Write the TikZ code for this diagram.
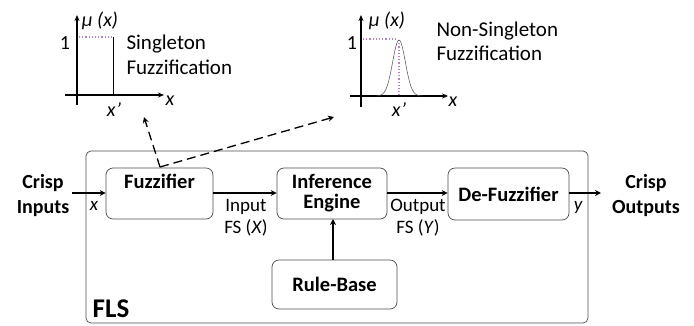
\documentclass[tikz,border=0pt]{standalone}
\usepackage{fontspec}
\setmainfont{Carlito}
\usetikzlibrary{arrows.meta}
\begin{document}
\begin{tikzpicture}[x=1pt,y=-1pt,
  blk/.style={draw=black!70,line width=0.7pt,rounded corners=7pt,font=\fontsize{20.5}{20}\selectfont\bfseries,align=center},
  conn/.style={line width=1.3pt,-{Stealth[length=6pt,width=6pt]}},
  axis/.style={line width=1.3pt,-{Stealth[length=6pt,width=5pt]}},
  lbl/.style={font=\fontsize{19}{22}\selectfont,align=center},
  plt/.style={font=\fontsize{20}{22}\selectfont},
  pit/.style={font=\fontsize{20}{22}\selectfont\itshape},
  big/.style={font=\fontsize{20}{25}\selectfont\bfseries,align=center},
  dotl/.style={dotted,line width=1.2pt,violet!50},
  dsh/.style={dashed,dash pattern=on 9pt off 5pt,line width=1.3pt,-{Stealth[length=6pt,width=6pt]}}]
\useasboundingbox (0,0) rectangle (694,325);
% outer box
\draw[draw=black!70,line width=0.7pt,rounded corners=5pt] (86,151) rectangle (588,323);
\node[font=\fontsize{27}{30}\selectfont\bfseries] (fls) at (111,309) {FLS};
% blocks
\node[blk,minimum width=107pt,minimum height=51pt] (fuz) at (159.5,193.5) {Fuzzifier\\[-2pt]\strut};
\node[blk,minimum width=110pt,minimum height=51pt] (inf) at (332,193.5) {Inference\\Engine};
\node[blk,minimum width=121pt,minimum height=52pt] (def) at (508.5,194) {De-Fuzzifier};
\node[blk,minimum width=125pt,minimum height=49pt] (rb) at (334.5,284.5) {Rule-Base};
% io
\node[big] (cin) at (43,196) {Crisp\\Inputs};
\node[big] (cout) at (646,196) {Crisp\\Outputs};
\coordinate (cinA) at (72,193);
\coordinate (coutA) at (601,193);
\draw[conn] (cinA) -- (fuz.west |- cinA);
\draw[conn] (fuz.east |- cinA) -- (inf.west |- cinA);
\draw[conn] (inf.east |- cinA) -- (def.west |- cinA);
\draw[conn] (def.east |- coutA) -- (coutA);
\draw[conn] (rb.north -| 333,0) -- (333,219);
\node[lbl,font=\fontsize{19}{22}\selectfont\itshape] (xin) at (94,206) {x};
\node[lbl,font=\fontsize{19}{22}\selectfont\itshape] (yout) at (578,207) {y};
\node[lbl] (ifs) at (246,218) {Input\\FS (\textit{X})};
\node[lbl] (ofs) at (418,218) {Output\\FS (\textit{Y})};
% dashed
\coordinate (dsrc) at (160,167);
\coordinate (d1) at (144,117);
\coordinate (d2) at (334,117);
\draw[dsh] (dsrc) -- (d1);
\draw[dsh] (dsrc) -- (d2);
% singleton plot
\draw[axis] (77,105) -- (77,15);
\draw[axis] (65,95) -- (164,95);
\draw[dotl] (79,37) -- (112,37);
\draw[line width=0.5pt] (113,37) -- (113,95);
\node[pit] (mu1) at (100,21) {μ (x)};
\node[plt] (one1) at (65,43) {1};
\node[pit] (xp1) at (114,110) {x’};
\node[pit] (xa1) at (170,101) {x};
\node[plt,align=left,anchor=north west,font=\fontsize{21}{25}\selectfont] (st1) at (123,31) {Singleton\\Fuzzification};
% non-singleton plot
\draw[axis] (361,107) -- (361,15);
\draw[axis] (350,96) -- (448,96);
\draw[dotl] (363,39) -- (398,39);
\draw[dotl] (399,40) -- (399,95);
\draw[line width=0.5pt,black!70] plot[domain=376:422,samples=60,smooth] (\x,{96-56*exp(-((\x-399)/9)^2)});
\node[pit] (mu2) at (387,21) {μ (x)};
\node[plt] (one2) at (352,43) {1};
\node[pit] (xp2) at (399,110) {x’};
\node[pit] (xa2) at (453,102) {x};
\node[plt,align=left,anchor=north west,font=\fontsize{21}{24}\selectfont] (st2) at (433,18) {Non-Singleton\\Fuzzification};
\end{tikzpicture}
\end{document}
